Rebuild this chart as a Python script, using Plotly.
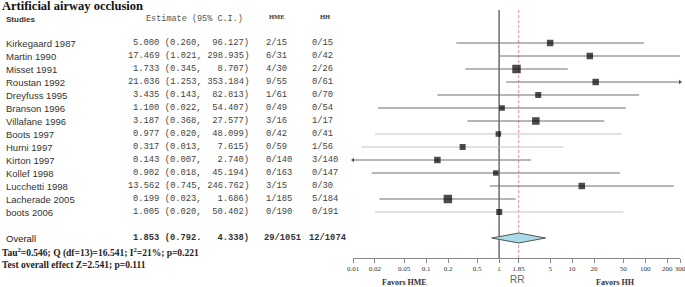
import numpy as np
import plotly.graph_objects as go

W, H = 685, 287

studies = ["Kirkegaard 1987", "Martin 1990", "Misset 1991", "Roustan 1992", "Dreyfuss 1995",
           "Branson 1996", "Villafane 1996", "Boots 1997", "Hurni 1997", "Kirton 1997",
           "Kollef 1998", "Lucchetti 1998", "Lacherade 2005", "boots 2006"]
estimate = [5.000, 17.469, 1.733, 21.036, 3.435, 1.100, 3.187, 0.977, 0.317, 0.143,
            0.902, 13.562, 0.199, 1.005]
ci_low = [0.260, 1.021, 0.345, 1.253, 0.143, 0.022, 0.368, 0.020, 0.013, 0.007,
          0.018, 0.745, 0.023, 0.020]
ci_high = [96.127, 298.935, 8.707, 353.184, 82.813, 54.407, 27.577, 48.099, 7.615, 2.740,
           45.194, 246.762, 1.686, 50.402]
hme = ["2/15", "6/31", "4/30", "9/55", "1/61", "0/49", "3/16", "0/42", "0/59", "0/140",
       "0/163", "3/15", "1/185", "0/190"]
hh = ["0/15", "0/42", "2/26", "0/61", "0/70", "0/54", "1/17", "0/41", "1/56", "3/140",
      "0/147", "0/30", "5/184", "0/191"]
box_size = [6.5, 6.5, 8.5, 6.5, 6, 5.5, 7.5, 5.5, 6, 6.5, 5.5, 6.5, 8.5, 6]
light_line = [False, False, False, False, False, False, False, True, True, False,
              False, False, False, True]

overall_est, overall_lo, overall_hi = 1.853, 0.792, 4.338
overall_text = "1.853 (0.792.   4.338)"
overall_hme, overall_hh = "29/1051", "12/1074"
tick_vals = [0.01, 0.02, 0.05, 0.1, 0.2, 0.5, 1, 1.853, 5, 10, 20, 50, 100, 200, 300]
tick_text = ["0.01", "0.02", "0.05", "0.1", "0.2", "0.5", "1", "1.85", "5", "10", "20",
             "50", "100", "200", "300"]
x_min, x_max = 0.01, 300

# layout helpers (pixels -> coordinates)
ROW0, ROWH = 43, 13
AXIS_PX = 258
def row_of_px(p):
    return (p - ROW0) / ROWH
def py(p):
    return 1 - p / H
def px(p):
    return p / W

overall_row = len(studies) + 1

fig = go.Figure()

# reference line at 1 and pooled dashed line
fig.add_trace(go.Scatter(x=[1, 1], y=[row_of_px(10), row_of_px(AXIS_PX)], mode="lines",
                         line=dict(color="#222", width=1), hoverinfo="skip", showlegend=False))
fig.add_trace(go.Scatter(x=[overall_est, overall_est], y=[row_of_px(10), row_of_px(AXIS_PX)],
                         mode="lines", line=dict(color="#ff8f8f", width=1, dash="3px,2px"),
                         hoverinfo="skip", showlegend=False))

# CI lines
for light in (False, True):
    xs, ys = [], []
    for i in range(len(studies)):
        if light_line[i] != light:
            continue
        xs += [max(ci_low[i], x_min), min(ci_high[i], x_max), None]
        ys += [i, i, None]
    fig.add_trace(go.Scatter(x=xs, y=ys, mode="lines",
                             line=dict(color="#c4c4c4" if light else "#6e6e6e", width=1),
                             hoverinfo="skip", showlegend=False))

# arrows for truncated CIs
ax_, ay_, asym = [], [], []
for i in range(len(studies)):
    if ci_high[i] > x_max:
        ax_.append(x_max); ay_.append(i); asym.append("triangle-right")
    if ci_low[i] < x_min:
        ax_.append(x_min); ay_.append(i); asym.append("triangle-left")
fig.add_trace(go.Scatter(x=ax_, y=ay_, mode="markers",
                         marker=dict(symbol=asym, size=4, color="#555"),
                         hoverinfo="skip", showlegend=False, cliponaxis=False))

# squares
fig.add_trace(go.Scatter(x=estimate, y=list(range(len(studies))), mode="markers",
                         marker=dict(symbol="square", size=box_size, color="black",
                                     line=dict(width=0)),
                         hoverinfo="skip", showlegend=False))

# diamond
dh = 5 / ROWH
fig.add_trace(go.Scatter(x=[overall_lo, overall_est, overall_hi, overall_est, overall_lo],
                         y=[overall_row, overall_row - dh, overall_row, overall_row + dh, overall_row],
                         mode="lines", fill="toself", fillcolor="#a9dbe8",
                         line=dict(color="#555", width=1), hoverinfo="skip", showlegend=False))

# red tick at pooled estimate
fig.add_trace(go.Scatter(x=[overall_est], y=[row_of_px(AXIS_PX + 2.5)], mode="markers",
                         marker=dict(symbol="line-ns", size=5, line=dict(color="#ff6060", width=1)),
                         hoverinfo="skip", showlegend=False, cliponaxis=False))

NB = "\u00a0"
mono = "Liberation Mono, Courier New, monospace"
sans = "Liberation Sans, Arial, sans-serif"
serif = "Liberation Serif, Times New Roman, serif"
ann = []
for i, s in enumerate(studies):
    ann.append(dict(x=px(4), y=i, xref="paper", yref="y", text=s, showarrow=False,
                    xanchor="left", yanchor="middle", font=dict(family=sans, size=9.5, color="#333")))
    est = f"{estimate[i]:6.3f} ({ci_low[i]:.3f}, {ci_high[i]:7.3f})".strip().replace(" ", NB)
    ann.append(dict(x=px(251), y=i, xref="paper", yref="y", text=est, showarrow=False,
                    xanchor="right", yanchor="middle", font=dict(family=mono, size=8.8, color="#444")))
    ann.append(dict(x=px(264), y=i, xref="paper", yref="y", text=hme[i], showarrow=False,
                    xanchor="left", yanchor="middle", font=dict(family=mono, size=8.8, color="#444")))
    ann.append(dict(x=px(310), y=i, xref="paper", yref="y", text=hh[i], showarrow=False,
                    xanchor="left", yanchor="middle", font=dict(family=mono, size=8.8, color="#444")))

ann.append(dict(x=px(4), y=overall_row, xref="paper", yref="y", text="Overall", showarrow=False,
                xanchor="left", yanchor="middle", font=dict(family=sans, size=9.5, color="#222")))
ann.append(dict(x=px(251), y=overall_row, xref="paper", yref="y", text="<b>" + overall_text.replace(" ", NB) + "</b>",
                showarrow=False, xanchor="right", yanchor="middle", font=dict(family=mono, size=8.8, color="#333")))
ann.append(dict(x=px(262), y=overall_row, xref="paper", yref="y", text="<b>" + overall_hme + "</b>",
                showarrow=False, xanchor="left", yanchor="middle", font=dict(family=mono, size=8.8, color="#333")))
ann.append(dict(x=px(307), y=overall_row, xref="paper", yref="y", text="<b>" + overall_hh + "</b>",
                showarrow=False, xanchor="left", yanchor="middle", font=dict(family=mono, size=8.8, color="#333")))

# title and headers
ann += [
    dict(x=0, y=py(6), xref="paper", yref="paper", text="<b>Artificial airway occlusion</b>",
         showarrow=False, xanchor="left", yanchor="middle", font=dict(family=serif, size=12.5, color="#111")),
    dict(x=px(4), y=py(19), xref="paper", yref="paper", text="<b>Studies</b>",
         showarrow=False, xanchor="left", yanchor="middle", font=dict(family=sans, size=8, color="#333")),
    dict(x=px(144), y=py(19), xref="paper", yref="paper", text="Estimate (95% C.I.)".replace(" ", NB),
         showarrow=False, xanchor="left", yanchor="middle", font=dict(family=mono, size=8.5, color="#555")),
    dict(x=px(267), y=py(17), xref="paper", yref="paper", text="<b>HME</b>",
         showarrow=False, xanchor="left", yanchor="middle", font=dict(family=serif, size=6.5, color="#333")),
    dict(x=px(318), y=py(17), xref="paper", yref="paper", text="<b>HH</b>",
         showarrow=False, xanchor="left", yanchor="middle", font=dict(family=serif, size=6.5, color="#333")),
    dict(x=0, y=py(252), xref="paper", yref="paper",
         text="<b>Tau<sup>2</sup>=0.546; Q (df=13)=16.541; I<sup>2</sup>=21%; p=0.221</b>",
         showarrow=False, xanchor="left", yanchor="middle", font=dict(family=serif, size=9.5, color="#222")),
    dict(x=0, y=py(265), xref="paper", yref="paper",
         text="<b>Test overall effect Z=2.541; p=0.111</b>",
         showarrow=False, xanchor="left", yanchor="middle", font=dict(family=serif, size=9.5, color="#222")),
    dict(x=px(404), y=py(282), xref="paper", yref="paper", text="<b>Favors HME</b>",
         showarrow=False, xanchor="center", yanchor="middle", font=dict(family=serif, size=8, color="#333")),
    dict(x=px(615), y=py(282), xref="paper", yref="paper", text="<b>Favors HH</b>",
         showarrow=False, xanchor="center", yanchor="middle", font=dict(family=serif, size=8, color="#333")),
    dict(x=px(517), y=py(279), xref="paper", yref="paper", text="RR",
         showarrow=False, xanchor="center", yanchor="middle", font=dict(family=sans, size=10, color="#666")),
]

fig.update_layout(
    width=W, height=H, margin=dict(l=0, r=0, t=0, b=0),
    paper_bgcolor="white", plot_bgcolor="white",
    annotations=ann, showlegend=False,
    xaxis=dict(type="log", range=[np.log10(x_min), np.log10(x_max)],
               domain=[353 / W, 680 / W], tickvals=tick_vals, ticktext=tick_text,
               ticks="outside", ticklen=4, tickcolor="#888", tickwidth=1, tickangle=0,
               showline=True, linecolor="#888", linewidth=1, mirror=False,
               showgrid=False, zeroline=False, ticklabeloverflow="allow", automargin=False,
               tickfont=dict(family=serif, size=7, color="#333"), anchor="y", fixedrange=True),
    yaxis=dict(domain=[1 - AXIS_PX / H, 1], range=[row_of_px(AXIS_PX), row_of_px(0)],
               visible=False, fixedrange=True),
)

fig.write_html("out.html", config={"displayModeBar": False},
               post_script="document.body.style.margin='0px';document.body.style.overflow='hidden';")
